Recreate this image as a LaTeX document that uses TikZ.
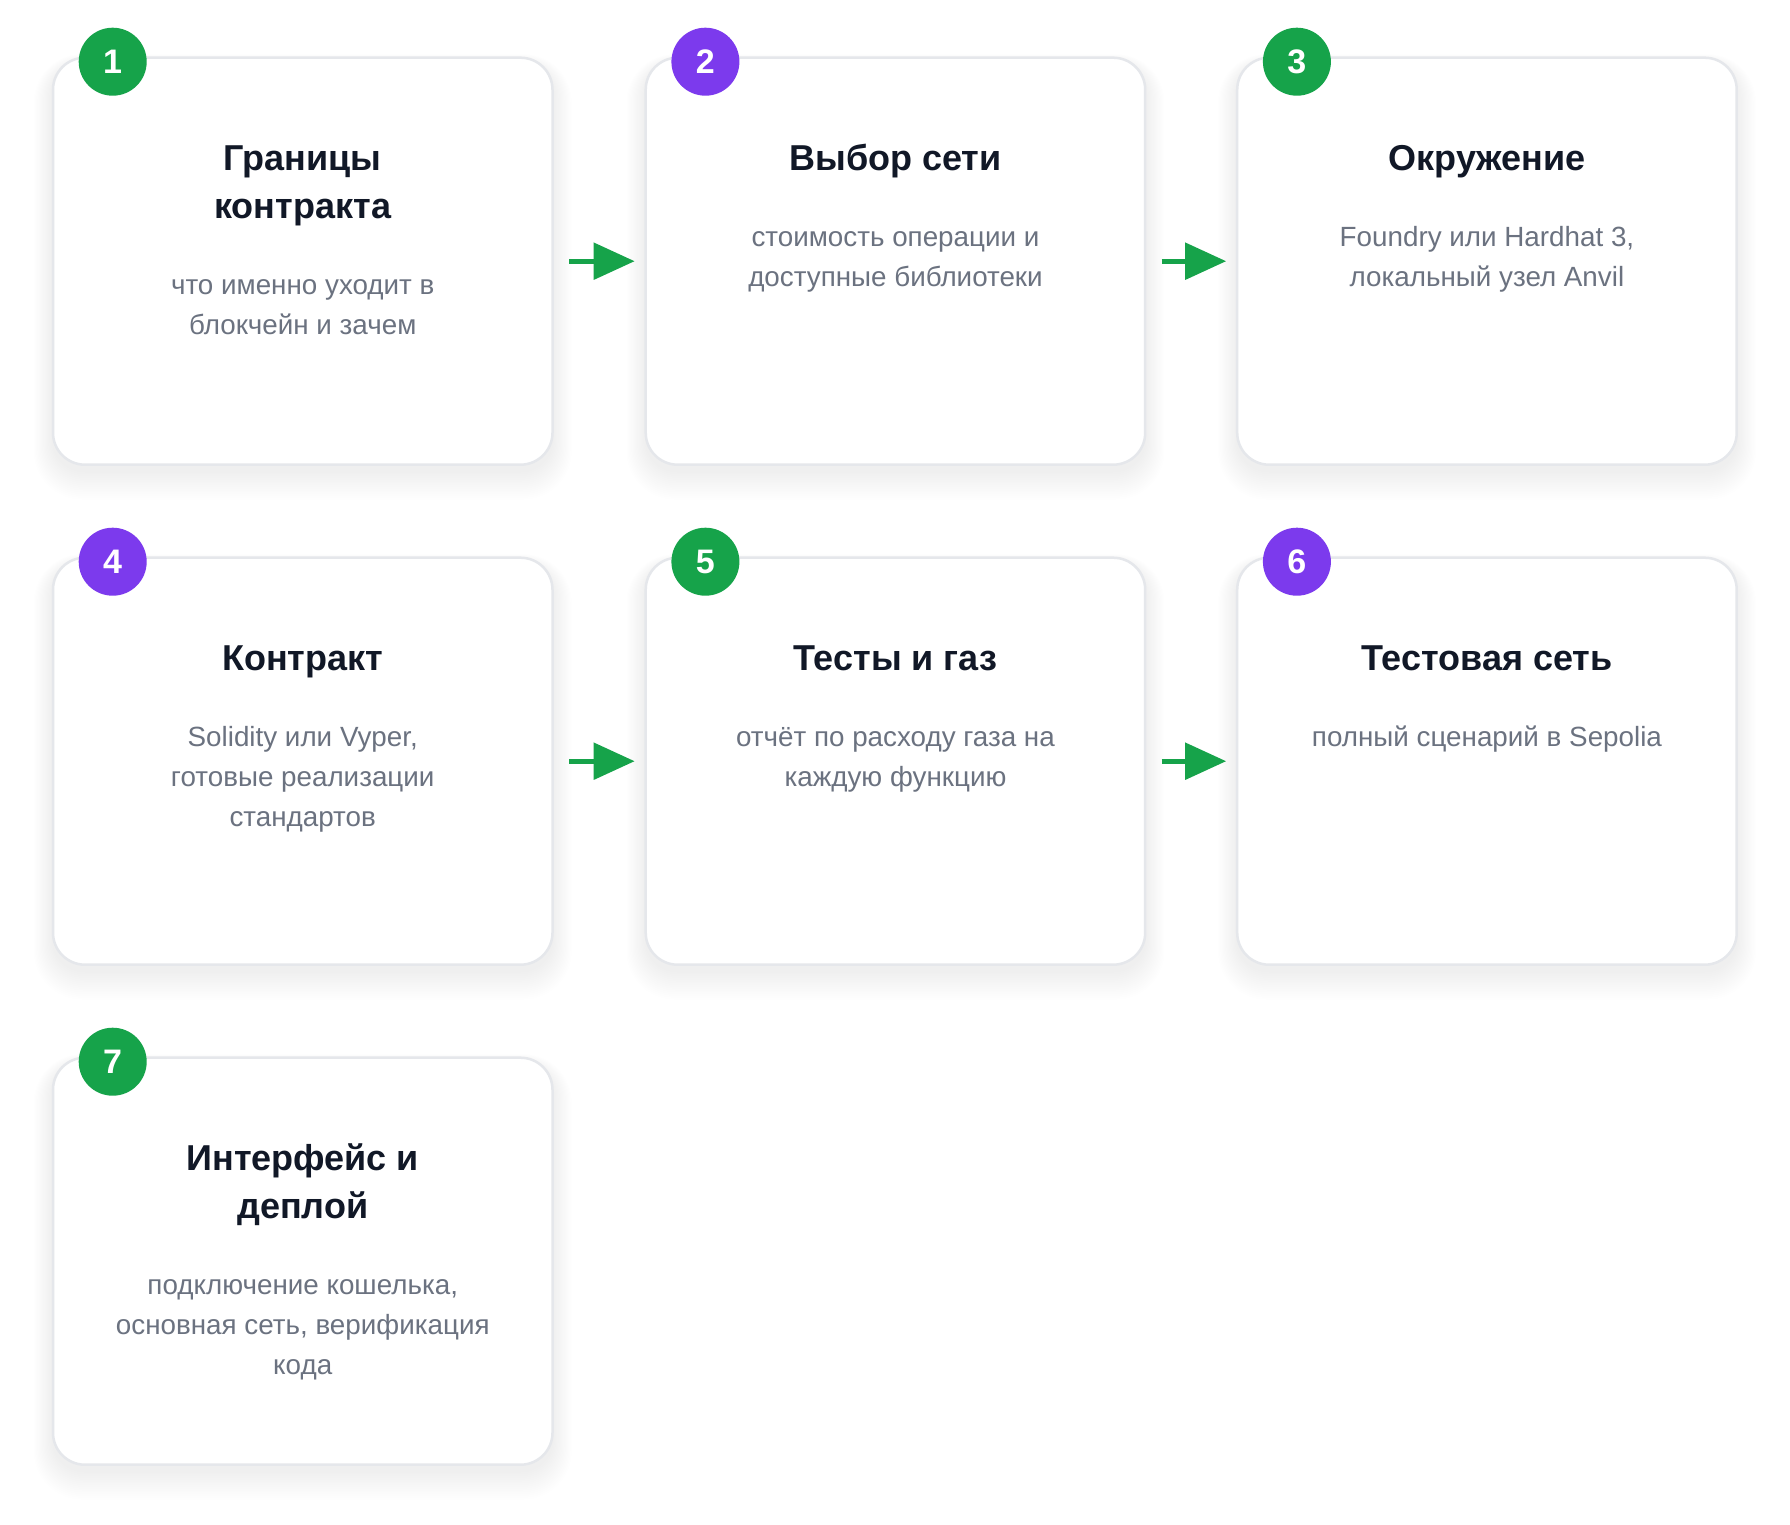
\documentclass[tikz,border=0pt]{standalone}
\usepackage{fontspec}
\setmainfont{Liberation Sans}
\usetikzlibrary{arrows.meta,positioning,calc}
\definecolor{stepgreen}{HTML}{16A34A}
\definecolor{steppurple}{HTML}{7C3AED}
\definecolor{cardborder}{HTML}{E5E7EB}
\definecolor{titlecol}{HTML}{111827}
\definecolor{desccol}{HTML}{6B7280}
\tikzset{
  card/.style={draw=cardborder, line width=2.5pt, fill=white, rounded corners=32pt,
    minimum width=499.5pt, minimum height=407pt, inner sep=0pt, outer sep=0pt},
  badge/.style={circle, minimum size=68pt, inner sep=0pt, outer sep=0pt, text=white,
    font=\fontsize{34}{34}\selectfont\bfseries},
  ttl/.style={align=center, inner sep=0pt, outer sep=0pt, text=titlecol,
    font=\fontsize{36}{48}\selectfont\bfseries},
  dsc/.style={align=center, inner sep=0pt, outer sep=0pt, text=desccol,
    font=\fontsize{27.8}{40}\selectfont},
  cardshadow/.style={fill=black, opacity=0.0035},
  flow/.style={draw=stepgreen, line width=5.4pt, -{Triangle[length=41pt,width=36pt,fill=stepgreen]},
    shorten <=16.5pt, shorten >=11pt}
}
\newcommand\stepcard[7]{%
  \foreach \s in {1,...,16}{
    \fill[cardshadow, rounded corners={32pt+\s pt}]
      ($(#2,#3)+(-249.75-1.2*\s,-203.5+6-0.6*\s)$) rectangle
      ($(#2,#3)+(249.75+1.2*\s,203.5+6+1.8*\s)$);
  }
  \node[card] (#1) at (#2,#3) {};
  \node[badge, fill=#4] (#1n) at ($(#1.north west)+(59.7,4)$) {#5};
  \node[ttl, anchor=north] (#1t) at ($(#1.north)+(0,79.4)$) {\strut #6\strut};
  \node[dsc, below=32.9pt of #1t] (#1d) {\strut #7\strut};
}
\begin{document}
\begin{tikzpicture}[x=1pt,y=-1pt]
  \useasboundingbox (0,0) rectangle (1790,1525);
  \fill[white] (0,0) rectangle (1790,1525);
  \stepcard{c1}{302.75}{261.2}{stepgreen}{1}{Границы\\контракта}{что именно уходит в\\блокчейн и зачем}
  \stepcard{c2}{895.45}{261.2}{steppurple}{2}{Выбор сети}{стоимость операции и\\доступные библиотеки}
  \stepcard{c3}{1486.95}{261.2}{stepgreen}{3}{Окружение}{Foundry или Hardhat 3,\\локальный узел Anvil}
  \stepcard{c4}{302.75}{761.2}{steppurple}{4}{Контракт}{Solidity или Vyper,\\готовые реализации\\стандартов}
  \stepcard{c5}{895.45}{761.2}{stepgreen}{5}{Тесты и газ}{отчёт по расходу газа на\\каждую функцию}
  \stepcard{c6}{1486.95}{761.2}{steppurple}{6}{Тестовая сеть}{полный сценарий в Sepolia}
  \stepcard{c7}{302.75}{1261.2}{stepgreen}{7}{Интерфейс и\\деплой}{подключение кошелька,\\основная сеть, верификация\\кода}
  \draw[flow] (c1.east) -- (c2.west);
  \draw[flow] (c2.east) -- (c3.west);
  \draw[flow] (c4.east) -- (c5.west);
  \draw[flow] (c5.east) -- (c6.west);
\end{tikzpicture}
\end{document}
